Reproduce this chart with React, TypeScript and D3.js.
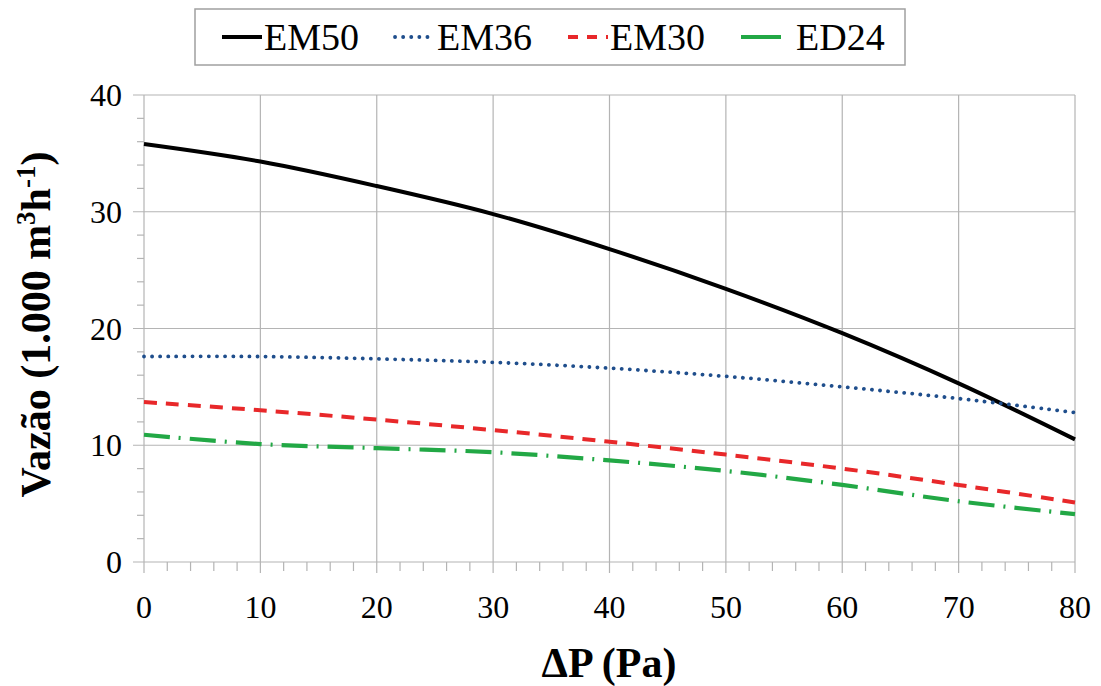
import React from "react";
import * as d3 from "d3";

const xValues = [0, 10, 20, 30, 40, 50, 60, 70, 80];
const em50 = [35.8, 34.3, 32.2, 29.8, 26.8, 23.4, 19.6, 15.3, 10.5];
const em36 = [17.6, 17.6, 17.4, 17.1, 16.6, 15.9, 15.0, 14.0, 12.8];
const em30 = [13.7, 13.0, 12.2, 11.3, 10.3, 9.2, 8.0, 6.6, 5.1];
const ed24 = [10.9, 10.1, 9.75, 9.4, 8.7, 7.8, 6.6, 5.2, 4.1];
const seriesNames = ["EM50", "EM36", "EM30", "ED24"];
const xTicks = [0, 10, 20, 30, 40, 50, 60, 70, 80];
const yTicks = [0, 10, 20, 30, 40];

const styles = [
  { color: "#000000", dash: "", cap: "butt", width: 4 },
  { color: "#1f4e8c", dash: "0.1 8", cap: "round", width: 3.8 },
  { color: "#e8282a", dash: "13 9", cap: "butt", width: 4 },
  { color: "#22a845", dash: "26 9 2 9", cap: "butt", width: 4.2 },
];

export default function App() {
  const W = 1101, H = 686;
  const left = 144, right = 1075, top = 95, bottom = 562;
  const x = d3.scaleLinear().domain([0, 80]).range([left, right]);
  const y = d3.scaleLinear().domain([0, 40]).range([bottom, top]);
  const data = [em50, em36, em30, ed24];
  const line = d3
    .line<number>()
    .x((_, i) => x(xValues[i]))
    .y((d) => y(d))
    .curve(d3.curveCatmullRom.alpha(0.5));
  const minorX = d3.range(0, 81, 2).filter((v) => v % 10 !== 0);
  const minorY = d3.range(0, 41, 2).filter((v) => v % 10 !== 0);
  const font = "'Liberation Serif', Tinos, 'Times New Roman', Times, 'DejaVu Serif', serif";
  const tf = { fontFamily: font };
  const grid = "#b4b4b4";
  const legendX = [222, 395, 568, 741];
  return (
    <svg width={W} height={H} style={{ position: "absolute", left: 0, top: 0, fontFamily: font }}>
      <rect x={0} y={0} width={W} height={H} fill="#fff" />
      {xTicks.map((t) => (
        <line key={"gx" + t} x1={x(t)} x2={x(t)} y1={top} y2={bottom + 11} stroke={grid} strokeWidth={1.2} />
      ))}
      {yTicks.map((t) => (
        <line key={"gy" + t} x1={left - 11} x2={right} y1={y(t)} y2={y(t)} stroke={grid} strokeWidth={1.2} />
      ))}
      {minorX.map((t) => (
        <line key={"mx" + t} x1={x(t)} x2={x(t)} y1={bottom} y2={bottom + 9} stroke={grid} strokeWidth={1.2} />
      ))}
      {minorY.map((t) => (
        <line key={"my" + t} x1={left - 7} x2={left} y1={y(t)} y2={y(t)} stroke={grid} strokeWidth={1.2} />
      ))}
      {yTicks.map((t) => (
        <text key={"ly" + t} x={122} y={y(t) + 11} textAnchor="end" fontSize={32} fill="#000" style={tf}>
          {t}
        </text>
      ))}
      {xTicks.map((t) => (
        <text key={"lx" + t} x={x(t)} y={618} textAnchor="middle" fontSize={32} fill="#000" style={tf}>
          {t}
        </text>
      ))}
      {data.map((d, i) => (
        <path
          key={seriesNames[i]}
          d={line(d) || ""}
          fill="none"
          stroke={styles[i].color}
          strokeWidth={styles[i].width}
          strokeDasharray={styles[i].dash}
          strokeLinecap={styles[i].cap as any}
        />
      ))}
      <text x={609} y={677} textAnchor="middle" fontSize={42} fontWeight="bold" fill="#000" style={tf}>
        ΔP (Pa)
      </text>
      <text
        transform={`translate(50, ${(top + bottom) / 2 - 4}) rotate(-90)`}
        textAnchor="middle"
        fontSize={42}
        fontWeight="bold"
        fill="#000"
        style={tf}
      >
        Vazão (1.000 m
        <tspan dy={-15} fontSize={27}>3</tspan>
        <tspan dy={15}>h</tspan>
        <tspan dy={-15} fontSize={27}>-1</tspan>
        <tspan dy={15}>)</tspan>
      </text>
      <rect x={195} y={9} width={710} height={56} fill="#fff" stroke="#a0a0a0" strokeWidth={1.5} />
      {seriesNames.map((n, i) => (
        <g key={"lg" + n}>
          <line
            x1={legendX[i]}
            x2={legendX[i] + 40}
            y1={37}
            y2={37}
            stroke={styles[i].color}
            strokeWidth={styles[i].width}
            strokeDasharray={i === 3 ? "" : i === 2 ? "10 9" : styles[i].dash}
            strokeLinecap={styles[i].cap as any}
          />
          <text x={legendX[i] + (i === 3 ? 55 : 42)} y={50} fontSize={38} fill="#000" style={tf}>
            {n}
          </text>
        </g>
      ))}
    </svg>
  );
}
